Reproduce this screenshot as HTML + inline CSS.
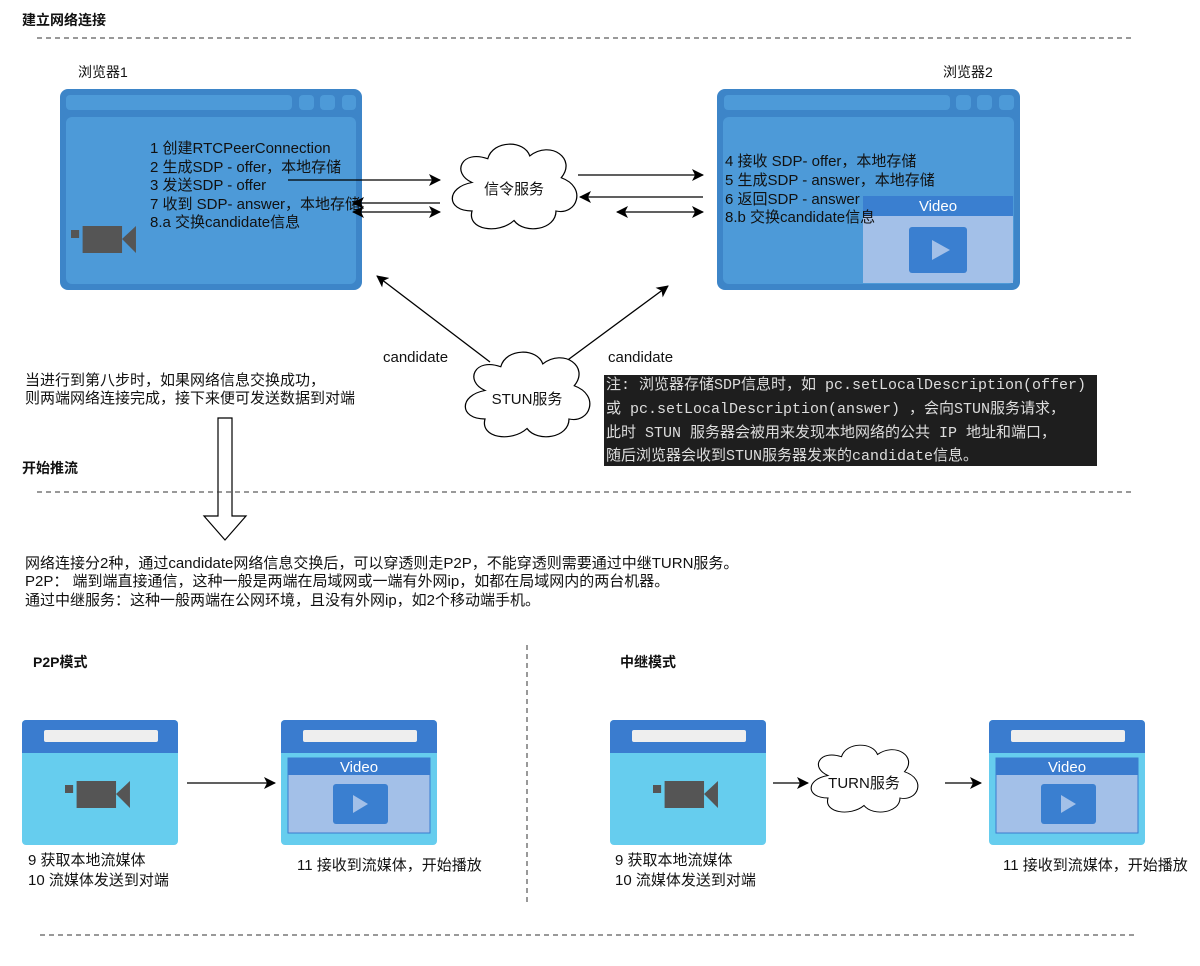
<!DOCTYPE html>
<html><head><meta charset="utf-8"><style>
body{margin:0;background:#fff}
svg text{font-family:"Liberation Sans","Noto Sans CJK SC",sans-serif;fill:#111}
.m{font-family:"Liberation Mono","Noto Sans CJK SC",monospace !important;fill:#ddd !important}
</style></head><body>
<svg width="1200" height="961" viewBox="0 0 1200 961" xmlns="http://www.w3.org/2000/svg">
<defs>
<marker id="a" markerWidth="12" markerHeight="12" refX="11" refY="6" orient="auto" markerUnits="userSpaceOnUse"><path d="M0,0 L12,6 L0,12 L3,6z" fill="#000"/></marker>
<marker id="s" markerWidth="12" markerHeight="12" refX="1" refY="6" orient="auto" markerUnits="userSpaceOnUse"><path d="M12,0 L0,6 L12,12 L9,6z" fill="#000"/></marker>
<g id="cam"><rect x="0" y="8" width="7" height="8" fill="#555"/><rect x="10" y="4" width="34" height="27" fill="#555"/><path d="M44,17 L56,4 L56,31z" fill="#555"/></g>
<path id="cloud" d="M-40,-10 C-60,-20 -50,-45 -25,-35 C-20,-55 10,-55 15,-38 C35,-55 60,-35 45,-15 C70,-5 60,25 40,20 C40,40 10,45 0,30 C-15,45 -45,40 -40,20 C-65,20 -65,-5 -40,-10z" fill="#fff" stroke="#000" stroke-width="1.2"/>
</defs>
<text x="22" y="25" font-size="14" font-weight="bold">建立网络连接</text>
<line x1="37" y1="38" x2="1132" y2="38" stroke="#333" stroke-dasharray="5,4"/>
<text x="78" y="77" font-size="14">浏览器1</text>
<text x="943" y="77" font-size="14">浏览器2</text>
<!-- browser1 -->
<rect x="60" y="89" width="302" height="201" rx="8" fill="#3d85c8"/>
<rect x="66" y="95" width="226" height="15" rx="4" fill="#4d9ad8"/>
<rect x="299" y="95" width="15" height="15" rx="4" fill="#4d9ad8"/>
<rect x="320" y="95" width="15" height="15" rx="4" fill="#4d9ad8"/>
<rect x="342" y="95" width="14" height="15" rx="4" fill="#4d9ad8"/>
<rect x="66" y="117" width="290" height="167" rx="6" fill="#4d9ad8"/>
<use href="#cam" transform="translate(71,222) scale(1.16,1.0)"/>
<g font-size="15"><text x="150" y="153">1 创建RTCPeerConnection</text><text x="150" y="172">2 生成SDP - offer，本地存储</text><text x="150" y="190">3 发送SDP - offer</text><text x="150" y="209">7 收到 SDP- answer，本地存储</text><text x="150" y="227">8.a 交换candidate信息</text></g>
<!-- browser2 -->
<rect x="717" y="89" width="303" height="201" rx="8" fill="#3d85c8"/>
<rect x="724" y="95" width="226" height="15" rx="4" fill="#4d9ad8"/>
<rect x="956" y="95" width="15" height="15" rx="4" fill="#4d9ad8"/>
<rect x="977" y="95" width="15" height="15" rx="4" fill="#4d9ad8"/>
<rect x="999" y="95" width="15" height="15" rx="4" fill="#4d9ad8"/>
<rect x="723" y="117" width="291" height="167" rx="6" fill="#4d9ad8"/>
<rect x="863" y="196" width="150" height="87" fill="#a3c0e8"/>
<rect x="863" y="196" width="150" height="20" fill="#3a7fd0"/>
<text x="938" y="211" font-size="15" text-anchor="middle" style="fill:#fff">Video</text>
<rect x="909" y="227" width="58" height="46" rx="3" fill="#3a7fd0"/>
<path d="M932,240 L950,250 L932,260z" fill="#a3c0e8"/>
<g font-size="15"><text x="725" y="166">4 接收 SDP- offer，本地存储</text><text x="725" y="185">5 生成SDP - answer，本地存储</text><text x="725" y="204">6 返回SDP - answer</text><text x="725" y="222">8.b 交换candidate信息</text></g>
<!-- arrows -->
<g stroke="#000" stroke-width="1.3" fill="none">
<line x1="288" y1="180" x2="440" y2="180" marker-end="url(#a)"/>
<line x1="440" y1="203" x2="353" y2="203" marker-end="url(#a)"/>
<line x1="353" y1="212" x2="440" y2="212" marker-start="url(#s)" marker-end="url(#a)"/>
<line x1="578" y1="175" x2="703" y2="175" marker-end="url(#a)"/>
<line x1="703" y1="197" x2="580" y2="197" marker-end="url(#a)"/>
<line x1="617" y1="212" x2="703" y2="212" marker-start="url(#s)" marker-end="url(#a)"/>
<line x1="490" y1="362" x2="377" y2="276" marker-end="url(#a)"/>
<line x1="565" y1="362" x2="668" y2="286" marker-end="url(#a)"/>
</g>
<use href="#cloud" transform="translate(514,192) scale(1.05,0.95)"/>
<text x="514" y="194" font-size="15" text-anchor="middle">信令服务</text>
<use href="#cloud" transform="translate(527,400) scale(1.05,0.95)"/>
<text x="527" y="404" font-size="15" text-anchor="middle">STUN服务</text>
<text x="383" y="362" font-size="15">candidate</text>
<text x="608" y="362" font-size="15">candidate</text>
<rect x="604" y="375" width="493" height="91" fill="#1e1e1e"/>
<g font-size="15"><text class="m" x="606" y="389">注: 浏览器存储SDP信息时，如 pc.setLocalDescription(offer)</text><text class="m" x="606" y="413">或 pc.setLocalDescription(answer) ，会向STUN服务请求，</text><text class="m" x="606" y="437">此时 STUN 服务器会被用来发现本地网络的公共 IP 地址和端口，</text><text class="m" x="606" y="460">随后浏览器会收到STUN服务器发来的candidate信息。</text></g>
<g font-size="15"><text x="25" y="385">当进行到第八步时，如果网络信息交换成功，</text><text x="25" y="403">则两端网络连接完成，接下来便可发送数据到对端</text></g>
<path d="M218,418 L232,418 L232,516 L246,516 L225,540 L204,516 L218,516z" fill="#fff" stroke="#000" stroke-width="1.2"/>
<text x="22" y="473" font-size="14" font-weight="bold">开始推流</text>
<line x1="37" y1="492" x2="1132" y2="492" stroke="#333" stroke-dasharray="5,4"/>
<g font-size="15"><text x="25" y="568">网络连接分2种，通过candidate网络信息交换后，可以穿透则走P2P，不能穿透则需要通过中继TURN服务。</text><text x="25" y="586">P2P： 端到端直接通信，这种一般是两端在局域网或一端有外网ip，如都在局域网内的两台机器。</text><text x="25" y="605">通过中继服务：这种一般两端在公网环境，且没有外网ip，如2个移动端手机。</text></g>
<text x="33" y="667" font-size="14" font-weight="bold">P2P模式</text>
<text x="620" y="667" font-size="14" font-weight="bold">中继模式</text>
<line x1="527" y1="645" x2="527" y2="905" stroke="#333" stroke-dasharray="5,4"/>
<!-- small browsers -->
<g id="sb1">
<rect x="22" y="720" width="156" height="125" rx="4" fill="#66cdee"/>
<path d="M26,720 h148 a4,4 0 0 1 4,4 v29 h-156 v-29 a4,4 0 0 1 4,-4z" fill="#3a7ccf"/>
<rect x="44" y="730" width="114" height="12" rx="2" fill="#eee"/>
<use href="#cam" transform="translate(65,777) scale(1.16,1.0)"/>
</g>
<g id="sb2">
<rect x="281" y="720" width="156" height="125" rx="4" fill="#66cdee"/>
<path d="M285,720 h148 a4,4 0 0 1 4,4 v29 h-156 v-29 a4,4 0 0 1 4,-4z" fill="#3a7ccf"/>
<rect x="303" y="730" width="114" height="12" rx="2" fill="#eee"/>
<rect x="288" y="758" width="142" height="75" fill="#a3c0e8" stroke="#3a7ccf"/>
<rect x="288" y="758" width="142" height="17" fill="#3a7ccf"/>
<text x="359" y="772" font-size="15" text-anchor="middle" style="fill:#fff">Video</text>
<rect x="333" y="784" width="55" height="40" rx="3" fill="#3a7fd0"/>
<path d="M353,795 L368,804 L353,813z" fill="#a3c0e8"/>
</g>
<use href="#sb1" x="588"/>
<use href="#sb2" x="708"/>
<g stroke="#000" stroke-width="1.3">
<line x1="187" y1="783" x2="275" y2="783" marker-end="url(#a)"/>
<line x1="773" y1="783" x2="808" y2="783" marker-end="url(#a)"/>
<line x1="945" y1="783" x2="981" y2="783" marker-end="url(#a)"/>
</g>
<use href="#cloud" transform="translate(864,783) scale(0.9,0.75)"/>
<text x="864" y="788" font-size="15" text-anchor="middle">TURN服务</text>
<g font-size="15"><text x="28" y="865">9 获取本地流媒体</text><text x="28" y="885">10 流媒体发送到对端</text><text x="297" y="870">11 接收到流媒体，开始播放</text>
<text x="615" y="865">9 获取本地流媒体</text><text x="615" y="885">10 流媒体发送到对端</text><text x="1003" y="870">11 接收到流媒体，开始播放</text></g>
<line x1="40" y1="935" x2="1135" y2="935" stroke="#333" stroke-dasharray="5,4"/>
</svg>
</body></html>
